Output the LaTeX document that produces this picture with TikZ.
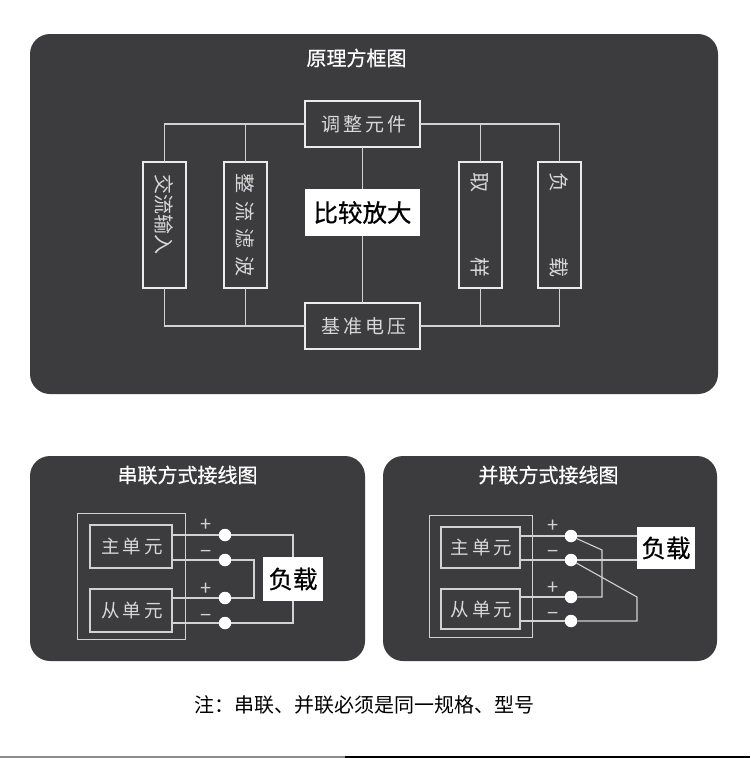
\documentclass[tikz,border=0pt]{standalone}
\usepackage{fontspec}
\usepackage{graphicx}
\setmainfont{Noto Sans CJK SC}
\newfontfamily\spaced[LetterSpace=15]{Noto Sans CJK SC}
\newfontfamily\medium[FakeBold=0.7]{Noto Sans CJK SC}
\usepackage{tikz}
\usetikzlibrary{positioning}
\definecolor{panelgray}{HTML}{3C3C3E}
\definecolor{linegray}{HTML}{D2D2D2}
\definecolor{textgray}{HTML}{D8D8D8}
\newcommand{\vtext}[1]{\rotatebox{-90}{\raisebox{1.5pt}{#1}}}
\tikzset{
  panel/.style={fill=panelgray, rounded corners=20pt, inner sep=0pt, outer sep=0pt},
  block/.style={draw=white!92!black, line width=1.3pt, inner sep=0pt, outer sep=0pt,
                align=center, text=textgray},
  wbox/.style={block, minimum width=115pt, minimum height=46pt,
               font=\spaced\fontsize{19}{22}\selectfont},
  vbox/.style={block, minimum width=43pt, minimum height=126pt,
               font=\fontsize{20}{22}\selectfont},
  unit/.style={block, draw=linegray, line width=1.2pt, font=\spaced\fontsize{18.5}{22}\selectfont},
  house/.style={draw=linegray, line width=1pt, inner sep=0pt, outer sep=0pt},
  tag/.style={fill=white, text=black, inner sep=0pt, outer sep=0pt, align=center,
              font=\medium\fontsize{24.5}{28}\selectfont},
  title/.style={text=white, inner sep=0pt, font=\medium\fontsize{20}{22}\selectfont},
  sign/.style={text=linegray, inner sep=0pt, font=\fontsize{20}{22}\selectfont},
  dot/.style={circle, fill=white, minimum size=12.5pt, inner sep=0pt, outer sep=0pt},
  wire/.style={draw=linegray, line width=1.1pt}
}
\begin{document}
\begin{tikzpicture}[x=1pt, y=-1pt]
  \useasboundingbox (0,0) rectangle (750,758);
  \node[panel, minimum width=688pt, minimum height=360pt] (top) at (374,214) {};
  \node[panel, minimum width=335pt, minimum height=205pt] (serial) at (197.5,558.5) {};
  \node[panel, minimum width=334pt, minimum height=205pt] (para) at (550,558.5) {};
  \node[title] (toptitle) at (356.5,58) {原理方框图};
  \node[title] (sertitle) at (187.5,475) {串联方式接线图};
  \node[title] (partitle) at (548.5,475) {并联方式接线图};

  \node[wbox] (adjust) at (362.5,124) {\hspace{2.5pt}调整元件};
  \node[wbox] (refv) at (362.5,326) {\hspace{2.5pt}基准电压};
  \node[tag, minimum width=115pt, minimum height=47pt] (compare) at (362.5,212.5) {比较放大};
  \node[vbox] (acin) at (164.5,225) {\vtext{交流输入\hspace{21pt}}};
  \node[vbox] (filter) at (245.5,225) {\vtext{整\hspace{7.5pt}流\hspace{7.5pt}滤\hspace{7.5pt}波}};
  \node[vbox] (sample) at (480.5,225) {\vtext{取\hspace{65pt}样}};
  \node[vbox] (load) at (559.5,225) {\vtext{负\hspace{65pt}载}};
  \draw[wire] (acin.north) |- (adjust.west);
  \draw[wire] (filter.north) -- (filter.north |- adjust.west);
  \draw[wire] (sample.north) -- (sample.north |- adjust.east);
  \draw[wire] (load.north) |- (adjust.east);
  \draw[wire] (acin.south) |- (refv.west);
  \draw[wire] (filter.south) -- (filter.south |- refv.west);
  \draw[wire] (sample.south) -- (sample.south |- refv.east);
  \draw[wire] (load.south) |- (refv.east);
  \draw[wire] (adjust.south) -- (compare.north);
  \draw[wire] (compare.south) -- (refv.north);

  \node[house, minimum width=108pt, minimum height=126pt] (shousing) at (131,576) {};
  \node[unit, minimum width=82pt, minimum height=43pt] (smain) at (131,546.5) {\hspace{2pt}主单元};
  \node[unit, minimum width=82pt, minimum height=43pt] (sslave) at (131,610.5) {\hspace{2pt}从单元};
  \node[dot] (s1) at (225,535) {};
  \node[dot] (s2) at (225,560) {};
  \node[dot] (s3) at (225,598) {};
  \node[dot] (s4) at (225,623) {};
  \node[tag, minimum width=60pt, minimum height=44pt] (sload) at (293,579) {负载};
  \coordinate (sbend) at (254,560);
  \draw[wire] (s1 -| smain.east) -- (s1);
  \draw[wire] (s2 -| smain.east) -- (s2);
  \draw[wire] (s3 -| sslave.east) -- (s3);
  \draw[wire] (s4 -| sslave.east) -- (s4);
  \draw[wire] (s1) -| (sload.north);
  \draw[wire] (s4) -| (sload.south);
  \draw[wire] (s2) -- (sbend) |- (s3);
  \node[sign] (sp1) at (206,525) {+};
  \node[sign] (sm1) at (206,554) {−};
  \node[sign] (sp2) at (206,589) {+};
  \node[sign] (sm2) at (206,618) {−};

  \node[house, minimum width=103pt, minimum height=122pt] (phousing) at (480.5,576) {};
  \node[unit, minimum width=79pt, minimum height=41pt] (pmain) at (480.5,547.5) {\hspace{2pt}主单元};
  \node[unit, minimum width=79pt, minimum height=40pt] (pslave) at (480.5,609) {\hspace{2pt}从单元};
  \node[dot] (p1) at (571,536) {};
  \node[dot] (p2) at (571,560) {};
  \node[dot] (p3) at (571,597) {};
  \node[dot] (p4) at (571,621) {};
  \node[tag, minimum width=58pt, minimum height=42pt] (pload) at (666,548) {负载};
  \coordinate (pbend) at (602,550);
  \coordinate (qbend) at (637,597);
  \draw[wire] (p1 -| pmain.east) -- (p1);
  \draw[wire] (p2 -| pmain.east) -- (p2);
  \draw[wire] (p3 -| pslave.east) -- (p3);
  \draw[wire] (p4 -| pslave.east) -- (p4);
  \draw[wire] (p1) -- (p1 -| pload.west);
  \draw[wire] (p2) -- (p2 -| pload.west);
  \draw[wire] (p1) -- (pbend) |- (p3);
  \draw[wire] (p2) -- (qbend) |- (p4);
  \node[sign] (pp1) at (553,526) {+};
  \node[sign] (pm1) at (553,554) {−};
  \node[sign] (pp2) at (553,588) {+};
  \node[sign] (pm2) at (553,616) {−};

  \node[inner sep=0pt, font=\fontsize{20}{22}\selectfont] (note) at (364.5,705) {注：串联、并联必须是同一规格、型号};
  \node[fill=black!45, minimum width=345pt, minimum height=2pt, inner sep=0pt, outer sep=0pt, anchor=north west] (stripl) at (0,756) {};
  \node[fill=black, minimum width=405pt, minimum height=2pt, inner sep=0pt, outer sep=0pt, right=0pt of stripl] (stripr) {};
\end{tikzpicture}
\end{document}
